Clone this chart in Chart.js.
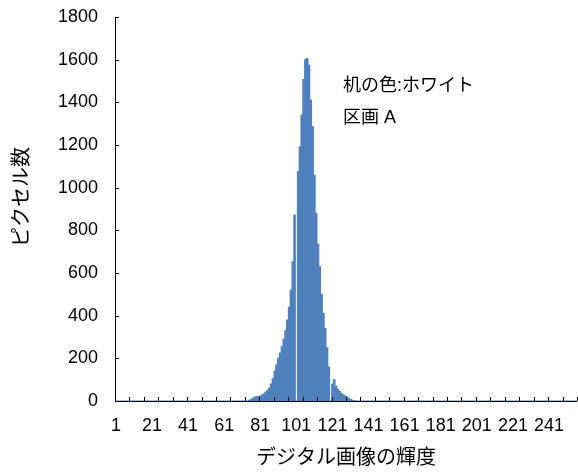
<!DOCTYPE html>
<html lang="ja">
<head>
<meta charset="utf-8">
<title>ピクセル数</title>
<script src="https://cdn.jsdelivr.net/npm/chart.js@4.4.1/dist/chart.umd.min.js"></script>
<style>
    html, body { margin: 0; padding: 0; background: #fff; }
    #wrap { width: 578px; height: 472px; }
</style>
</head>
<body>
<div id="wrap"><canvas id="histChart" width="578" height="472"></canvas></div>
<script>
    // Brightness levels 1..256 (category labels)
    var brightness = [];
    for (var i = 1; i <= 256; i++) {
        brightness.push(String(i));
    }

    // Pixel count per brightness level, 16 levels per row
    var pixelCounts = [
        0, 0, 0, 0, 0, 0, 0, 0, 0, 0, 0, 0, 0, 0, 0, 0,
        0, 0, 0, 0, 0, 0, 0, 0, 0, 0, 0, 0, 0, 0, 0, 0,
        0, 0, 0, 0, 0, 0, 0, 0, 0, 0, 0, 0, 0, 0, 0, 0,
        0, 0, 0, 0, 0, 0, 0, 0, 0, 0, 0, 0, 0, 0, 0, 0,
        0, 0, 0, 0, 0, 0, 0, 0, 0, 0, 4, 8, 14, 18, 20, 22,
        24, 28, 35, 42, 50, 60, 80, 105, 140, 170, 200, 225, 255, 290, 330, 380,
        440, 520, 653, 872, 0, 1075, 1192, 1341, 1508, 1600, 1606, 1575, 1411, 1286, 1060, 880,
        736, 630, 500, 411, 340, 250, 160, 0, 80, 100, 70, 55, 45, 36, 30, 25,
        20, 14, 8, 4, 2, 0, 0, 0, 0, 0, 0, 0, 0, 0, 0, 0,
        0, 0, 0, 0, 0, 0, 0, 0, 0, 0, 0, 0, 0, 0, 0, 0,
        0, 0, 0, 0, 0, 0, 0, 0, 0, 0, 0, 0, 0, 0, 0, 0,
        0, 0, 0, 0, 0, 0, 0, 0, 0, 0, 0, 0, 0, 0, 0, 0,
        0, 0, 0, 0, 0, 0, 0, 0, 0, 0, 0, 0, 0, 0, 0, 0,
        0, 0, 0, 0, 0, 0, 0, 0, 0, 0, 0, 0, 0, 0, 0, 0,
        0, 0, 0, 0, 0, 0, 0, 0, 0, 0, 0, 0, 0, 0, 0, 0,
        0, 0, 0, 0, 0, 0, 0, 0, 0, 0, 0, 0, 0, 0, 0, 0
    ];

    var xTickLabels = ['1', '21', '41', '61', '81', '101', '121', '141', '161', '181', '201', '221', '241'];
    var yTickValues = [0, 200, 400, 600, 800, 1000, 1200, 1400, 1600, 1800];
    var yTitle = 'ピクセル数';
    var noteLines = ['机の色:ホワイト', '区画 A'];

    var xTickEvery = 8;   // minor tick marks every 8 levels
    var fontStack = '"Liberation Sans", "Noto Sans CJK JP", sans-serif';

    /**
     * Short tick marks drawn inside the plot, like the spreadsheet original.
     */
    var innerTicks = {
        id: 'innerTicks',
        afterDatasetsDraw: function(chart) {
            var ctx = chart.ctx;
            var x = chart.scales.x;
            var y = chart.scales.y;
            var binW = (x.right - x.left) / brightness.length;

            ctx.save();
            ctx.strokeStyle = '#000';
            ctx.lineWidth = 1;
            ctx.beginPath();
            for (var k = xTickEvery; k <= brightness.length; k += xTickEvery) {
                var px = Math.round(x.left + k * binW) + 0.5;
                ctx.moveTo(px, y.bottom);
                ctx.lineTo(px, y.bottom - 4);
            }
            yTickValues.forEach(function(v) {
                var py = Math.round(y.getPixelForValue(v)) + 0.5;
                ctx.moveTo(x.left, py);
                ctx.lineTo(x.left + 4, py);
            });
            ctx.stroke();
            ctx.restore();
        }
    };

    /**
     * Y axis title and the text note in the upper right of the plot.
     */
    var noteText = {
        id: 'noteText',
        afterDraw: function(chart) {
            var ctx = chart.ctx;
            var area = chart.chartArea;
            ctx.save();
            ctx.fillStyle = '#000';
            ctx.textBaseline = 'middle';

            ctx.font = '18px ' + fontStack;
            ctx.textAlign = 'left';
            noteLines.forEach(function(line, idx) {
                ctx.fillText(line, area.left + 228, area.top + 69 + idx * 32);
            });

            ctx.font = '20px ' + fontStack;
            ctx.textAlign = 'center';
            ctx.translate(22, area.top + 180);
            ctx.rotate(-Math.PI / 2);
            ctx.fillText(yTitle, 0, 0);
            ctx.restore();
        }
    };

    var ctx = document.getElementById('histChart');

    new Chart(ctx, {
        type: 'bar',
        data: {
            labels: brightness,
            datasets: [{
                label: yTitle,
                data: pixelCounts,
                backgroundColor: '#4f81bd',
                borderWidth: 0,
                inflateAmount: 0.4,
                barPercentage: 1,
                categoryPercentage: 1
            }]
        },
        options: {
            responsive: false,
            animation: false,
            layout: {
                padding: { top: 17, right: 0, bottom: 0, left: 0 }
            },
            plugins: {
                legend: { display: false },
                tooltip: { enabled: false }
            },
            scales: {
                x: {
                    grid: { display: false, drawTicks: false },
                    border: { display: true, color: '#000', width: 1 },
                    ticks: {
                        autoSkip: false,
                        maxRotation: 0,
                        minRotation: 0,
                        padding: 14,
                        color: '#000',
                        font: { family: fontStack, size: 18 },
                        callback: function(value) {
                            var label = this.getLabelForValue(value);
                            return xTickLabels.indexOf(label) >= 0 ? label : null;
                        }
                    },
                    title: {
                        display: true,
                        text: 'デジタル画像の輝度',
                        color: '#000',
                        font: { family: fontStack, size: 20 },
                        padding: { top: 0, bottom: 2 }
                    },
                    afterFit: function(scale) {
                        scale.height = 71;
                    }
                },
                y: {
                    min: 0,
                    max: 1800,
                    // tick length only pushes the labels away; the marks are drawn by innerTicks
                    grid: { display: false, drawTicks: true, tickLength: 17 },
                    border: { display: true, color: '#000', width: 1 },
                    ticks: {
                        stepSize: 200,
                        padding: 0,
                        color: '#000',
                        font: { family: fontStack, size: 18 },
                        callback: function(value) {
                            return String(value);
                        }
                    },
                    afterFit: function(scale) {
                        scale.width = 115;
                    }
                }
            }
        },
        plugins: [innerTicks, noteText]
    });
</script>
</body>
</html>
